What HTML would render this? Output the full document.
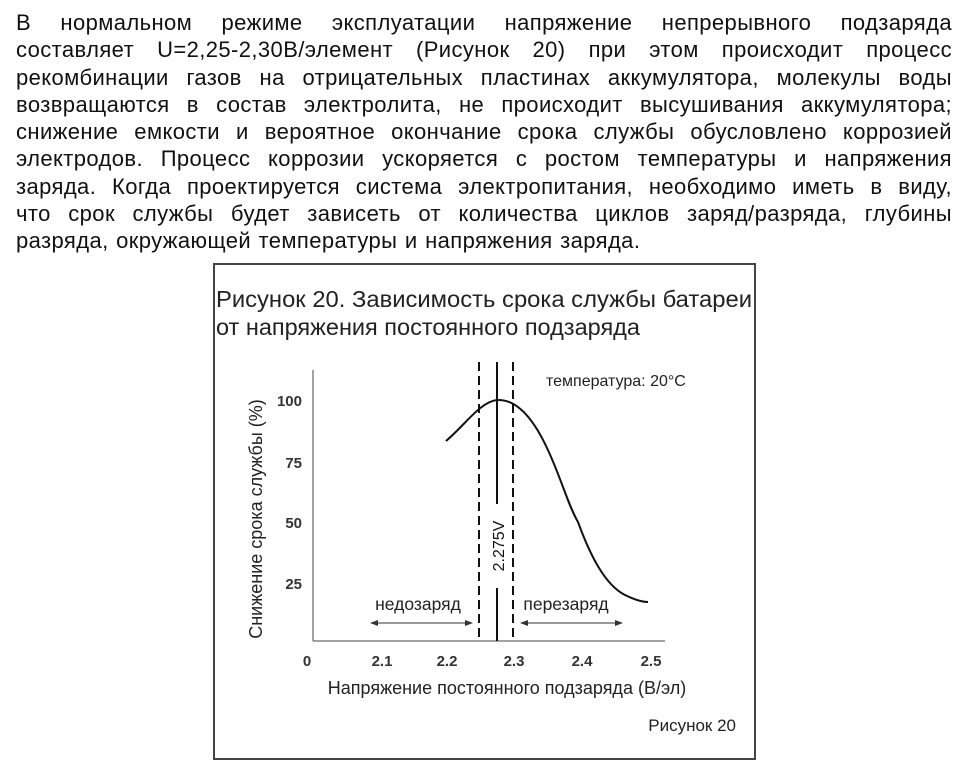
<!DOCTYPE html>
<html><head><meta charset="utf-8"><style>
body{margin:0;width:969px;height:773px;background:#fff;overflow:hidden;font-family:"Liberation Sans",sans-serif;color:#111}
.p{position:absolute;left:16px;width:936px;font-size:22px;letter-spacing:0.4px}
.l{height:27.3px;line-height:27.3px;text-align:justify;text-align-last:justify;white-space:nowrap;}
.box{position:absolute;left:213px;top:263px;width:543px;height:497px;border:2px solid #444;box-sizing:border-box}
</style></head><body>
<div class="p" style="top:9px">
<div class="l">В нормальном режиме эксплуатации напряжение непрерывного подзаряда</div>
<div class="l">составляет U=2,25-2,30В/элемент (Рисунок 20) при этом происходит процесс</div>
<div class="l">рекомбинации газов на отрицательных пластинах аккумулятора, молекулы воды</div>
<div class="l">возвращаются в состав электролита, не происходит высушивания аккумулятора;</div>
<div class="l">снижение емкости и вероятное окончание срока службы обусловлено коррозией</div>
<div class="l">электродов. Процесс коррозии ускоряется с ростом температуры и напряжения</div>
<div class="l">заряда. Когда проектируется система электропитания, необходимо иметь в виду,</div>
<div class="l">что срок службы будет зависеть от количества циклов заряд/разряда, глубины</div>
<div class="l" style="text-align-last:left;word-spacing:1px">разряда, окружающей температуры и напряжения заряда.</div>
</div>
<div class="box"></div>
<svg style="position:absolute;left:0;top:0" width="969" height="773" font-family="Liberation Sans, sans-serif">
<text x="216" y="307" font-size="23.5" fill="#222" textLength="536" lengthAdjust="spacingAndGlyphs">Рисунок 20. Зависимость срока службы батареи</text>
<text x="216" y="335" font-size="23.5" fill="#222">от напряжения постоянного подзаряда</text>
<line x1="313" y1="370" x2="313" y2="641" stroke="#444" stroke-width="1"/>
<line x1="313" y1="641" x2="665" y2="641" stroke="#444" stroke-width="1"/>
<g font-size="15" font-weight="bold" fill="#333" text-anchor="end">
<text x="302" y="406">100</text><text x="302" y="468">75</text><text x="302" y="528">50</text><text x="302" y="589">25</text>
</g>
<g font-size="15" font-weight="bold" fill="#333" text-anchor="middle">
<text x="307" y="666">0</text><text x="382" y="666">2.1</text><text x="447" y="666">2.2</text><text x="514" y="666">2.3</text><text x="582" y="666">2.4</text><text x="651" y="666">2.5</text>
</g>
<text x="507" y="694" font-size="18" fill="#222" text-anchor="middle">Напряжение постоянного подзаряда (В/эл)</text>
<text transform="translate(262,519) rotate(-90)" font-size="18" fill="#222" text-anchor="middle">Снижение срока службы (%)</text>
<text x="546" y="386" font-size="16" fill="#222">температура: 20°C</text>
<line x1="479" y1="362" x2="479" y2="641" stroke="#111" stroke-width="2" stroke-dasharray="9,5"/>
<line x1="513" y1="362" x2="513" y2="641" stroke="#111" stroke-width="2" stroke-dasharray="9,5"/>
<line x1="497" y1="362" x2="497" y2="504" stroke="#111" stroke-width="2"/>
<line x1="497" y1="588" x2="497" y2="641" stroke="#111" stroke-width="2"/>
<text transform="translate(504,546) rotate(-90)" font-size="16" fill="#111" text-anchor="middle">2.275V</text>
<path d="M446 441 C466 424,480 402,497 400 C515 399,532 416,547 448 C560 475,568 505,578 522 C590 555,605 585,625 595 C635 600,642 602,648 602" fill="none" stroke="#111" stroke-width="2"/>
<text x="418" y="610" font-size="17.5" fill="#222" text-anchor="middle">недозаряд</text>
<text x="566" y="610" font-size="17.5" fill="#222" text-anchor="middle">перезаряд</text>
<g stroke="#333" stroke-width="1"><line x1="371" y1="623" x2="472" y2="623"/><line x1="521" y1="623" x2="622" y2="623"/></g>
<g fill="#333"><path d="M370 623 l8 -3 v6z"/><path d="M473 623 l-8 -3 v6z"/><path d="M520 623 l8 -3 v6z"/><path d="M623 623 l-8 -3 v6z"/></g>
<text x="736" y="731" font-size="17" fill="#222" text-anchor="end">Рисунок 20</text>
</svg>
</body></html>
